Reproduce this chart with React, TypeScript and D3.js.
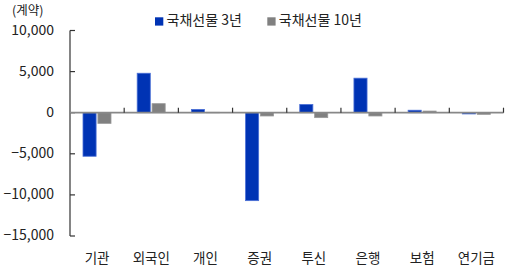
import * as d3 from 'd3';

const categories = ['기관', '외국인', '개인', '증권', '투신', '은행', '보험', '연기금'];
const seriesNames = ['국채선물 3년', '국채선물 10년'];
const futures3y = [-5300, 4800, 400, -10700, 1000, 4200, 300, -150];
const futures10y = [-1300, 1100, 50, -400, -600, -400, 200, -200];
const yTicks = [10000, 5000, 0, -5000, -10000, -15000];
const colors = ['#0033b4', '#808080'];
const strokes = ['#4a6fd6', '#9a9a9a'];

const W = 506;
const H = 269;
const FONT = '"Noto Sans CJK KR", "Noto Sans", sans-serif';

const App = () => {
  const x = d3.scaleBand<string>().domain(categories).range([70, 503.5]).padding(0);
  const x1 = d3.scaleBand<string>().domain(seriesNames).range([13, 41]).paddingInner(0.12);
  const y = d3.scaleLinear().domain([-15000, 10000]).range([236, 30.5]);
  const fmt = d3.format(',');
  const series = [futures3y, futures10y];
  const y0 = y(0);

  return (
    <svg
      width={W}
      height={H}
      style={{ position: 'absolute', left: 0, top: 0, background: '#fff' }}
      fontFamily={FONT}
    >
      {/* unit label */}
      <text x={12} y={11.5} fontSize={12.5} fill="#222" dominantBaseline="middle">(계약)</text>

      {/* legend */}
      {seriesNames.map((s, i) => {
        const lx = i === 0 ? 155 : 267.3;
        return (
          <g key={s}>
            <rect x={lx} y={17.3} width={8.3} height={8.3} fill={colors[i]} />
            <text x={lx + 11.5} y={21.5} fontSize={14} fill="#222" dominantBaseline="middle">{s}</text>
          </g>
        );
      })}

      {/* y axis */}
      <line x1={70} x2={70} y1={y(10000)} y2={y(-15000)} stroke="#333" strokeWidth={1.2} />
      {yTicks.map(t => (
        <g key={t}>
          <line x1={70} x2={75} y1={y(t)} y2={y(t)} stroke="#333" strokeWidth={1.2} />
          <text x={54} y={y(t) + 0.5} textAnchor="end" dominantBaseline="middle" fontSize={14} fill="#222">
            {fmt(t)}
          </text>
        </g>
      ))}

      {/* bars */}
      {categories.map((c, ci) => (
        <g key={c}>
          {series.map((vals, si) => {
            const v = vals[ci];
            const top = Math.min(y(v), y0);
            const h = Math.abs(y(v) - y0);
            return (
              <rect
                key={si}
                x={(x(c) ?? 0) + (x1(seriesNames[si]) ?? 0)}
                y={top}
                width={x1.bandwidth()}
                height={Math.max(h, 0.5)}
                fill={colors[si]}
                stroke={strokes[si]}
                strokeWidth={0.8}
              />
            );
          })}
        </g>
      ))}

      {/* zero line */}
      <line x1={70} x2={503.5} y1={y0} y2={y0} stroke="#888" strokeWidth={1.8} />
      {categories.map(c => (
        <line
          key={c}
          x1={(x(c) ?? 0) + x.bandwidth()}
          x2={(x(c) ?? 0) + x.bandwidth()}
          y1={y0}
          y2={y0 - 5}
          stroke="#333"
          strokeWidth={1.2}
        />
      ))}

      {/* category labels */}
      {categories.map(c => (
        <text
          key={c}
          x={(x(c) ?? 0) + x.bandwidth() / 2}
          y={259}
          textAnchor="middle"
          dominantBaseline="middle"
          fontSize={13.5}
          fill="#222"
        >
          {c}
        </text>
      ))}
    </svg>
  );
};

export default App;
